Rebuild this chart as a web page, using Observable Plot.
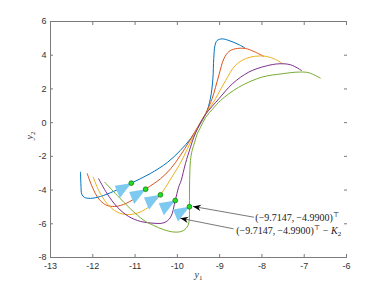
<!DOCTYPE html>
<html><head><meta charset="utf-8">
<script src="https://cdn.jsdelivr.net/npm/d3@7"></script>
<script src="https://cdn.jsdelivr.net/npm/@observablehq/plot@0.6"></script>
<style>body{margin:0;background:#fff} svg{display:block}</style>
</head><body><div id="chart"></div>
<script>
const xTicks = [-13,-12,-11,-10,-9,-8,-7,-6];
const yTicks = [-8,-6,-4,-2,0,2,4,6];
const seriesNames = ["c1","c2","c3","c4","c5"];
const seriesColors = ["#0072BD","#D95319","#EDB120","#7E2F8E","#77AC30"];

const curve1 = [[-12.29,-2.94],[-12.28,-3.7],[-12.26,-4.25],[-12.2,-4.43],[-12.05,-4.49],[-11.82,-4.38],[-11.5,-4.07],[-11.09,-3.59],[-10.64,-3.02],[-10.24,-2.37],[-9.93,-1.65],[-9.69,-0.96],[-9.53,-0.37],[-9.42,0.1],[-9.32,0.55],[-9.22,1.41],[-9.16,2.6],[-9.14,3.79],[-9.11,4.58],[-9.06,4.87],[-8.94,4.97],[-8.78,4.87],[-8.59,4.68],[-8.41,4.45]];
const curve2 = [[-12.13,-3.03],[-12.01,-3.83],[-11.86,-4.52],[-11.70,-4.87],[-11.54,-4.97],[-11.34,-4.91],[-11.07,-4.6],[-10.75,-3.95],[-10.40,-3.33],[-10.16,-2.74],[-9.93,-1.95],[-9.73,-1.16],[-9.6,-0.6],[-9.47,-0.05],[-9.33,0.55],[-9.18,1.41],[-9.02,2.80],[-8.90,3.79],[-8.78,4.22],[-8.63,4.38],[-8.39,4.40],[-8.19,4.22],[-7.96,3.94]];
const curve3 = [[-11.99,-3.23],[-11.86,-4.02],[-11.66,-4.81],[-11.42,-5.31],[-11.19,-5.45],[-10.95,-5.37],[-10.68,-5.01],[-10.40,-4.28],[-10.16,-3.35],[-9.95,-2.5],[-9.77,-1.6],[-9.65,-0.96],[-9.55,-0.45],[-9.46,-0.05],[-9.33,0.5],[-9.10,1.41],[-8.86,2.50],[-8.63,3.39],[-8.39,3.79],[-8.15,3.94],[-7.92,3.94],[-7.68,3.75],[-7.51,3.49]];
const curve4 = [[-11.86,-3.33],[-11.66,-4.22],[-11.42,-5.01],[-11.15,-5.57],[-10.87,-5.86],[-10.60,-5.96],[-10.32,-5.94],[-10.16,-5.61],[-10.05,-4.62],[-9.97,-3.83],[-9.91,-3.43],[-9.81,-2.44],[-9.69,-1.46],[-9.61,-0.86],[-9.52,-0.35],[-9.44,0.05],[-9.33,0.5],[-9.02,1.41],[-8.70,2.30],[-8.31,3.0],[-7.92,3.35],[-7.60,3.49],[-7.32,3.43],[-7.06,3.09]];
const curve5 = [[-11.72,-3.53],[-11.42,-4.32],[-11.11,-5.11],[-10.79,-5.80],[-10.56,-6.10],[-10.32,-6.35],[-10.08,-6.49],[-9.89,-6.44],[-9.77,-6.20],[-9.72,-5.80],[-9.7147,-4.99],[-9.71,-3.43],[-9.69,-2.24],[-9.65,-1.65],[-9.59,-1.16],[-9.53,-0.66],[-9.45,-0.27],[-9.33,0.32],[-9.15,0.85],[-8.98,1.31],[-8.55,2.10],[-8.0,2.70],[-7.52,2.90],[-7.13,3.0],[-6.89,2.96],[-6.62,2.64]];

const dotsX = [-11.09,-10.75,-10.40,-10.05,-9.7147];
const dotsY = [-3.59,-3.95,-4.28,-4.62,-4.99];
const k2X = [0, 0.39, 0.27];
const k2Y = [0, 0.16, 0.88];

const arrowFromX = [-8.19,-8.67], arrowFromY = [-5.61,-6.30];
const arrowToX = [-9.63,-9.93], arrowToY = [-4.97,-5.67];
const labelTexts = ["(−9.7147,\u2009−4.9900)^⊤", "(−9.7147,\u2009−4.9900)^⊤ − K_2"];
const labelX = [-8.18,-8.63], labelY = [-5.63,-6.40];

const curveTable = [curve1,curve2,curve3,curve4,curve5].flatMap((pts,i)=>pts.map(([x,y])=>({series:seriesNames[i],x,y})));
const triTable = dotsX.flatMap((dx,i)=>k2X.map((kx,j)=>({id:i,x:dx-kx,y:dotsY[i]-k2Y[j]})));
const dotTable = dotsX.map((x,i)=>({x,y:dotsY[i]}));
const arrowTable = arrowFromX.map((x,i)=>({x1:x,y1:arrowFromY[i],x2:arrowToX[i],y2:arrowToY[i]}));
const labelTable = labelTexts.map((t,i)=>({t,x:labelX[i],y:labelY[i]}));

function head(color, context) {
  const m = d3.create("svg:marker")
    .attr("viewBox","-10 -5 11 10").attr("markerWidth",11).attr("markerHeight",10)
    .attr("refX",0).attr("refY",0).attr("markerUnits","userSpaceOnUse").attr("orient","auto");
  m.append("path").attr("d","M0,0L-8,-3.2L-5.5,0L-8,3.2Z").attr("fill","#000").attr("stroke","none");
  return m.node();
}

const axisColor = "#7a7a7a";
const serif = "'Liberation Serif','DejaVu Serif',serif";
const plot = Plot.plot({
  width: 383, height: 288,
  marginLeft: 50, marginRight: 37, marginTop: 21, marginBottom: 31,
  x: {domain: [-13,-6]},
  y: {domain: [-8,6]},
  color: {domain: seriesNames, range: seriesColors},
  style: {fontFamily: "'Liberation Sans',Arial,sans-serif", fontSize: "9px", color: "#333", background: "white"},
  marks: [
    Plot.ruleY([-8], {stroke: axisColor}),
    Plot.ruleY([6], {stroke: axisColor}),
    Plot.ruleX([-13], {stroke: axisColor}),
    Plot.axisX(xTicks, {anchor:"bottom", tickSize:3, dy:-3, stroke: axisColor, tickFormat: () => ""}),
    Plot.axisX(xTicks, {anchor:"top", tickSize:3, dy:3, stroke: axisColor, tickFormat: () => ""}),
    Plot.axisY(yTicks, {anchor:"left", tickSize:3, dx:3, stroke: axisColor, tickFormat: () => ""}),
    Plot.axisY(yTicks, {anchor:"right", tickSize:3, dx:-3, stroke: axisColor, tickFormat: () => ""}),
    Plot.axisX(xTicks, {anchor:"bottom", tickSize:0, tickPadding:5, tickFormat: d => String(d), fill:"#333"}),
    Plot.axisY(yTicks, {anchor:"left", tickSize:0, tickPadding:4, tickFormat: d => String(d), fill:"#333"}),
    Plot.line(curveTable, {x:"x", y:"y", z:"series", stroke:"series", strokeWidth:1, curve:"catmull-rom"}),
    Plot.line(triTable, {x:"x", y:"y", z:"id", fill:"#7DC9F0", stroke:"none", curve:"linear-closed"}),
    Plot.dot(dotTable, {x:"x", y:"y", r:2.4, fill:"#22dd22", stroke:"#0b6e0b", strokeWidth:0.7}),
    Plot.link(arrowTable, {x1:"x1", y1:"y1", x2:"x2", y2:"y2", stroke:"#555", strokeWidth:0.8, markerEnd: head}),
    Plot.text(labelTable, {x:"x", y:"y", text:"t", textAnchor:"start", dx:1, fontFamily: serif, fontSize: 10, fill:"#222"}),
    Plot.text(["y_1"], {text: d => d, frameAnchor:"bottom", dy:20, fontFamily: serif, fontSize: 10, fill:"#333"}),
    Plot.text(["y_2"], {text: d => d, frameAnchor:"left", dx:-21, rotate:-90, fontFamily: serif, fontSize: 10, fill:"#333"})
  ]
});

const NS = "http://www.w3.org/2000/svg";
function richify(el) {
  const s = el.textContent;
  if (!/[\^_]/.test(s)) return;
  el.textContent = "";
  let offset = 0, buf = "";
  const add = (str, attrs) => {
    const t = document.createElementNS(NS, "tspan");
    t.textContent = str;
    for (const k in attrs) t.setAttribute(k, attrs[k]);
    el.appendChild(t);
  };
  const flush = () => {
    if (!buf) return;
    const parts = buf.match(/[A-Za-z]+|[^A-Za-z]+/g);
    for (const p of parts) {
      const a = {};
      if (offset) { a.dy = -offset; offset = 0; }
      if (/[A-Za-z]/.test(p)) a["font-style"] = "italic";
      add(p, a);
    }
    buf = "";
  };
  for (let i = 0; i < s.length; i++) {
    const c = s[i];
    if ((c === "^" || c === "_") && i + 1 < s.length) {
      flush();
      const d = c === "^" ? -3.8 : 2.6;
      add(s[i+1], {dy: d - offset, "font-size": "70%"});
      offset = d;
      i++;
    } else buf += c;
  }
  flush();
}
plot.querySelectorAll("text").forEach(richify);
document.getElementById("chart").appendChild(plot);
</script>
</body></html>
